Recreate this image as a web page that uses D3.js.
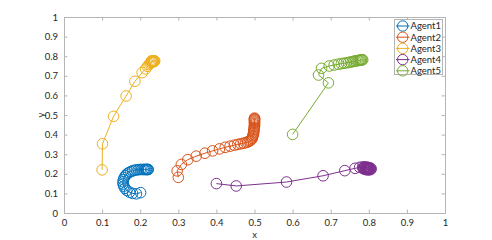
<!DOCTYPE html>
<html><head><meta charset="utf-8">
<script src="https://cdn.jsdelivr.net/npm/d3@7"></script>
<style>html,body{margin:0;padding:0;background:#fff;}svg{display:block;}</style>
</head><body>
<svg id="chart" width="492" height="240"></svg>
<script>
const seriesNames = ["Agent1","Agent2","Agent3","Agent4","Agent5"];
const seriesColors = ["#0072BD","#D95319","#EDB120","#7E2F8E","#77AC30"];
const xTicks = [0,0.1,0.2,0.3,0.4,0.5,0.6,0.7,0.8,0.9,1];
const yTicks = [0,0.1,0.2,0.3,0.4,0.5,0.6,0.7,0.8,0.9,1];
const xTickLabels = ["0","0.1","0.2","0.3","0.4","0.5","0.6","0.7","0.8","0.9","1"];
const yTickLabels = ["0","0.1","0.2","0.3","0.4","0.5","0.6","0.7","0.8","0.9","1"];

const agent1 = [[0.201,0.104],[0.19,0.098],[0.18,0.1],[0.172,0.106],[0.165,0.115],[0.16,0.126],[0.157,0.137],[0.155,0.148],[0.155,0.159],[0.156,0.17],[0.158,0.18],[0.161,0.19],[0.165,0.199],[0.17,0.206],[0.175,0.211],[0.18,0.215],[0.185,0.218],[0.19,0.22],[0.195,0.221],[0.2,0.222],[0.204,0.222],[0.208,0.222],[0.211,0.222],[0.214,0.222],[0.216,0.222],[0.218,0.222],[0.22,0.222],[0.221,0.222]];
const agent2 = [[0.3,0.182],[0.297,0.215],[0.308,0.248],[0.325,0.272],[0.347,0.29],[0.37,0.305],[0.39,0.317],[0.408,0.327],[0.423,0.335],[0.436,0.341],[0.447,0.346],[0.456,0.35],[0.464,0.353],[0.471,0.356],[0.477,0.359],[0.482,0.362],[0.486,0.366],[0.489,0.37],[0.492,0.375],[0.494,0.381],[0.495,0.388],[0.496,0.395],[0.497,0.403],[0.498,0.411],[0.498,0.419],[0.499,0.427],[0.499,0.435],[0.5,0.443],[0.5,0.45],[0.5,0.457],[0.5,0.463],[0.5,0.468],[0.5,0.473],[0.5,0.477],[0.5,0.481],[0.5,0.484]];
const agent3 = [[0.1,0.22],[0.101,0.353],[0.13,0.493],[0.163,0.597],[0.186,0.672],[0.205,0.716],[0.214,0.735],[0.219,0.748],[0.223,0.757],[0.226,0.763],[0.228,0.768],[0.232,0.773],[0.236,0.776],[0.238,0.776],[0.237,0.773],[0.234,0.771],[0.231,0.771],[0.229,0.773],[0.23,0.776],[0.233,0.777],[0.236,0.776]];
const agent4 = [[0.4,0.15],[0.452,0.138],[0.584,0.158],[0.68,0.19],[0.737,0.216],[0.764,0.228],[0.776,0.233],[0.784,0.235],[0.79,0.235],[0.795,0.234],[0.8,0.232],[0.804,0.229],[0.806,0.226],[0.805,0.222],[0.801,0.22],[0.796,0.22],[0.791,0.222],[0.787,0.225],[0.785,0.228],[0.787,0.231],[0.791,0.232],[0.796,0.231],[0.8,0.229],[0.802,0.226],[0.8,0.224],[0.796,0.224],[0.793,0.226],[0.794,0.228],[0.797,0.228]];
const agent5 = [[0.6,0.401],[0.694,0.664],[0.668,0.704],[0.676,0.738],[0.696,0.75],[0.709,0.755],[0.72,0.759],[0.728,0.762],[0.735,0.764],[0.741,0.766],[0.747,0.768],[0.752,0.77],[0.757,0.772],[0.761,0.774],[0.765,0.776],[0.769,0.777],[0.772,0.778],[0.775,0.779],[0.778,0.78],[0.78,0.781],[0.782,0.781],[0.784,0.782]];
const agents = [agent1, agent2, agent3, agent4, agent5];

const svg = d3.select("#chart");
const FONT = "Lato,'Noto Sans',sans-serif";
const mLeft = 64, mRight = 445, mTop = 17, mBottom = 213;
const x = d3.scaleLinear().domain([0,1]).range([mLeft,mRight]);
const y = d3.scaleLinear().domain([0,1]).range([mBottom,mTop]);
const axisColor = "#b5b5b5", textColor = "#262626";

// axes
const gx = svg.append("g").attr("transform",`translate(0,${mBottom})`)
  .call(d3.axisBottom(x).tickValues(xTicks).tickFormat((d,i)=>xTickLabels[i]).tickSizeInner(-3.5).tickSizeOuter(0).tickPadding(6));
const gxt = svg.append("g").attr("transform",`translate(0,${mTop})`)
  .call(d3.axisTop(x).tickValues(xTicks).tickFormat("").tickSizeInner(-3.5).tickSizeOuter(0));
const gy = svg.append("g").attr("transform",`translate(${mLeft},0)`)
  .call(d3.axisLeft(y).tickValues(yTicks).tickFormat((d,i)=>yTickLabels[i]).tickSizeInner(-3.5).tickSizeOuter(0).tickPadding(6));
const gyr = svg.append("g").attr("transform",`translate(${mRight},0)`)
  .call(d3.axisRight(y).tickValues(yTicks).tickFormat("").tickSizeInner(-3.5).tickSizeOuter(0));
[gx,gxt,gy,gyr].forEach(g=>{
  g.select(".domain").attr("stroke",axisColor).attr("stroke-width",1);
  g.selectAll(".tick line").attr("stroke",axisColor).attr("stroke-width",1);
  g.selectAll(".tick text").attr("fill",textColor).style("font-family",FONT).style("font-size","9.5px");
});

svg.append("text").attr("x",(mLeft+mRight)/2).attr("y",237.5).attr("text-anchor","middle")
  .attr("fill",textColor).style("font-family",FONT).style("font-size","9.5px").text("x");
svg.append("text").attr("transform",`translate(43.5,${(mTop+mBottom)/2}) rotate(-90)`).attr("text-anchor","middle")
  .attr("fill",textColor).style("font-family",FONT).style("font-size","9.5px").text("y");

// series
const line = d3.line().x(d=>x(d[0])).y(d=>y(d[1]));
agents.forEach((data,i)=>{
  const g = svg.append("g");
  g.append("path").datum(data).attr("d",line).attr("fill","none").attr("stroke",seriesColors[i]).attr("stroke-width",1);
  g.selectAll("circle").data(data).join("circle")
    .attr("cx",d=>x(d[0])).attr("cy",d=>y(d[1])).attr("r",5.3)
    .attr("fill","none").attr("stroke",seriesColors[i]).attr("stroke-width",1);
});

// legend
const lg = svg.append("g");
lg.append("rect").attr("x",394.5).attr("y",19.5).attr("width",48).attr("height",55)
  .attr("fill","#fff").attr("stroke","#b5b5b5").attr("stroke-width",1);
seriesNames.forEach((name,i)=>{
  const cy = 26 + i*11.2;
  lg.append("line").attr("x1",396).attr("x2",409.5).attr("y1",cy).attr("y2",cy).attr("stroke",seriesColors[i]).attr("stroke-width",1);
  lg.append("circle").attr("cx",402.7).attr("cy",cy).attr("r",5.2).attr("fill","none").attr("stroke",seriesColors[i]).attr("stroke-width",1);
  lg.append("text").attr("x",410.5).attr("y",cy+3.4).attr("fill",textColor)
    .style("font-family",FONT).style("font-size","9.5px").text(name);
});
</script>
</body></html>
